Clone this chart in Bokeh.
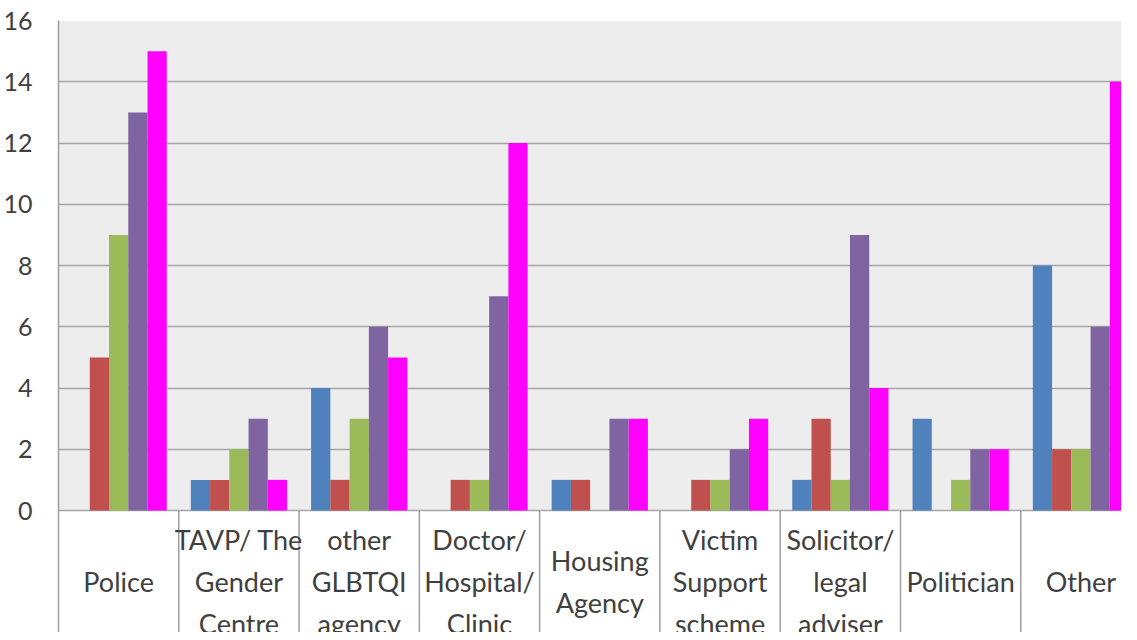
from bokeh.plotting import figure
from bokeh.models import ColumnDataSource, FixedTicker, BoxAnnotation
from bokeh.core.properties import value
from bokeh.embed import file_html
from bokeh.resources import INLINE

categories = ["Police", "TAVP/ The\nGender\nCentre", "other\nGLBTQI\nagency",
              "Doctor/\nHospital/\nClinic", "Housing\nAgency", "Victim\nSupport\nscheme",
              "Solicitor/\nlegal\nadviser", "Politician", "Other"]
series_1 = [0, 1, 4, 0, 1, 0, 1, 3, 8]
series_2 = [5, 1, 1, 1, 1, 1, 3, 0, 2]
series_3 = [9, 2, 3, 1, 0, 1, 1, 1, 2]
series_4 = [13, 3, 6, 7, 3, 2, 9, 2, 6]
series_5 = [15, 1, 5, 12, 3, 3, 4, 2, 14]
colors = ["#4f81bd", "#c0504d", "#9bbb59", "#8064a2", "#ff00ff"]
y_ticks = [0, 2, 4, 6, 8, 10, 12, 14, 16]

FONT = "Lato"
TEXT_COLOR = "#404040"

W, H = 1121, 632
left_b, top_b = 57, 20
frame_w = W - left_b
frame_h = H - top_b
px_per_unit = 490 / 16.0
y_min = -(frame_h - 490) / px_per_unit
cat_px = 120.4
x_end = frame_w / cat_px

p = figure(width=W, height=H, output_backend="svg", toolbar_location=None,
           x_range=(0, x_end), y_range=(y_min, 16),
           min_border_left=left_b, min_border_right=0, min_border_top=top_b,
           min_border_bottom=0, background_fill_color="white",
           border_fill_color="white", outline_line_color=None)

p.add_layout(BoxAnnotation(bottom=0, top=16, fill_color="#ededed", fill_alpha=1,
                           line_alpha=0, level="image"))

series = [series_1, series_2, series_3, series_4, series_5]
n = len(categories)
bw = 0.16
for j, vals in enumerate(series):
    xs = [i + 0.5 + (j - 2) * bw for i in range(n)]
    src = ColumnDataSource(dict(x=xs, top=vals))
    p.vbar(x="x", top="top", bottom=0, width=bw, source=src,
           fill_color=colors[j], line_color=None)

# category separators below the axis
sep_x = list(range(1, n))
p.segment(x0=sep_x, y0=[y_min] * len(sep_x), x1=sep_x, y1=[0] * len(sep_x),
          line_color="#a0a0a0", line_width=1.5)

# category labels
lab_src = ColumnDataSource(dict(x=[i + 0.5 for i in range(n)],
                                y=[-(581 - 510) / px_per_unit] * n,
                                t=categories))
p.text(x="x", y="y", text="t", source=lab_src, text_font=value(FONT),
       text_font_size="27px", text_color=TEXT_COLOR, text_align="center",
       text_baseline="middle", text_line_height=1.28)

p.xaxis.visible = False
p.xgrid.visible = False
p.ygrid.ticker = FixedTicker(ticks=y_ticks)
p.ygrid.grid_line_color = "#a6a6a6"
p.ygrid.grid_line_width = 1.5

ax = p.yaxis[0]
ax.ticker = FixedTicker(ticks=y_ticks)
ax.axis_line_color = "#a0a0a0"
ax.axis_line_width = 1.5
ax.major_tick_line_color = None
ax.minor_tick_line_color = None
ax.major_label_text_font = FONT
ax.major_label_text_font_size = "25px"
ax.major_label_text_color = TEXT_COLOR
ax.major_label_standoff = 20

open("out.html", "w").write(file_html(p, INLINE))
